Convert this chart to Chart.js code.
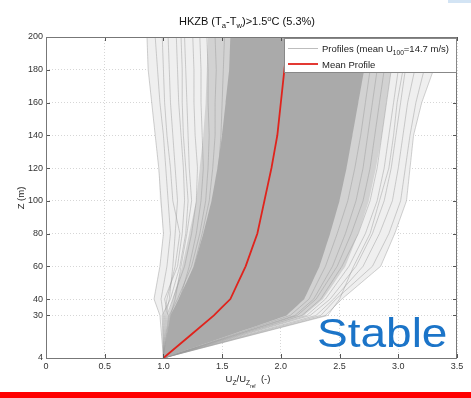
<!DOCTYPE html>
<html>
<head>
<meta charset="utf-8">
<script src="https://cdn.jsdelivr.net/npm/chart.js@4.4.1/dist/chart.umd.min.js"></script>
<style>
	html, body { margin: 0; padding: 0; background: #fff; }
	#wrap { width: 471px; height: 398px; }
</style>
</head>
<body>
<div id="wrap"><canvas id="profile_chart" width="471" height="398"></canvas></div>
<script>
// measurement heights of the mast (m)
const HEIGHTS = [4, 30, 40, 60, 80, 100, 120, 140, 160, 180, 200];
const Y_TICKS = [4, 30, 40, 60, 80, 100, 120, 140, 160, 180, 200];
const X_TICKS = [0, 0.5, 1, 1.5, 2, 2.5, 3, 3.5];

const MEAN_PROFILE = [1.0, 1.43, 1.57, 1.70, 1.80, 1.86, 1.92, 1.97, 2.00, 2.03, 2.06];

// envelopes of the gray cloud of single profiles
const OUTER_LEFT = [1.0, 0.97, 0.92, 0.97, 1.00, 0.97, 0.96, 0.93, 0.90, 0.87, 0.86];
const OUTER_RIGHT = [1.0, 2.38, 2.52, 2.85, 2.97, 3.07, 3.10, 3.13, 3.20, 3.30, 3.38];
const MID_LEFT = [1.0, 1.04, 1.08, 1.16, 1.22, 1.28, 1.31, 1.34, 1.36, 1.37, 1.38];
const MID_RIGHT = [1.0, 2.20, 2.36, 2.55, 2.66, 2.75, 2.81, 2.86, 2.90, 2.94, 2.97];
const CORE_LEFT = [1.0, 1.06, 1.13, 1.26, 1.34, 1.41, 1.46, 1.50, 1.53, 1.56, 1.57];
const CORE_RIGHT = [1.0, 2.05, 2.20, 2.33, 2.42, 2.50, 2.56, 2.61, 2.66, 2.71, 2.74];

// a few single profiles at the edges of the cloud
const FRINGE_PROFILES = [
	[1, 0.97, 0.92, 0.97, 1.00, 0.98, 0.96, 0.93, 0.90, 0.87, 0.86],
	[1, 1.00, 0.98, 1.03, 1.06, 1.04, 1.02, 1.00, 0.97, 0.95, 0.93],
	[1, 1.01, 1.03, 1.10, 1.14, 1.08, 1.06, 1.03, 1.01, 1.00, 0.99],
	[1, 1.02, 1.05, 1.08, 1.10, 1.12, 1.10, 1.08, 1.06, 1.05, 1.04],
	[1, 1.04, 1.01, 1.12, 1.16, 1.18, 1.17, 1.15, 1.13, 1.12, 1.11],
	[1, 1.06, 1.10, 1.15, 1.20, 1.24, 1.22, 1.21, 1.20, 1.19, 1.18],
	[1, 1.03, 1.08, 1.18, 1.24, 1.28, 1.29, 1.27, 1.26, 1.26, 1.25],
	[1, 1.08, 1.14, 1.22, 1.28, 1.32, 1.34, 1.33, 1.32, 1.32, 1.31],
	[1, 1.05, 1.12, 1.24, 1.31, 1.36, 1.38, 1.39, 1.38, 1.38, 1.37],
	[1, 1.09, 1.16, 1.26, 1.33, 1.39, 1.42, 1.44, 1.44, 1.45, 1.44],
	[1, 1.07, 1.15, 1.29, 1.37, 1.43, 1.47, 1.49, 1.50, 1.51, 1.52],
	[1, 0.99, 1.06, 1.14, 1.19, 1.21, 1.19, 1.17, 1.16, 1.16, 1.15],
	[1, 2.38, 2.52, 2.85, 2.97, 3.07, 3.10, 3.13, 3.20, 3.30, 3.38],
	[1, 2.34, 2.47, 2.78, 2.92, 3.02, 3.06, 3.10, 3.15, 3.22, 3.28],
	[1, 2.30, 2.45, 2.70, 2.84, 2.95, 3.00, 3.04, 3.08, 3.14, 3.18],
	[1, 2.25, 2.42, 2.64, 2.78, 2.88, 2.94, 2.98, 3.02, 3.06, 3.10],
	[1, 2.22, 2.38, 2.58, 2.72, 2.82, 2.88, 2.92, 2.96, 3.00, 3.03],
	[1, 2.18, 2.34, 2.52, 2.66, 2.76, 2.82, 2.86, 2.90, 2.94, 2.97],
	[1, 2.14, 2.30, 2.48, 2.60, 2.70, 2.76, 2.80, 2.84, 2.88, 2.91],
	[1, 2.12, 2.28, 2.44, 2.55, 2.64, 2.70, 2.74, 2.78, 2.82, 2.85],
	[1, 2.40, 2.50, 2.62, 2.76, 2.84, 2.92, 2.96, 2.99, 3.04, 3.08],
	[1, 2.08, 2.24, 2.38, 2.48, 2.57, 2.63, 2.68, 2.72, 2.76, 2.79]
];

const FONT = "'Liberation Sans', Arial, sans-serif";

function profilePoints(values) {
	return values.map((u, i) => ({ x: u, y: HEIGHTS[i] }));
}

// closed outline: up the left edge, down the right edge
function bandPoints(left, right) {
	const up = profilePoints(left);
	const down = profilePoints(right).reverse();
	return up.concat(down);
}

function bandDataset(left, right, color, order) {
	return {
		data: bandPoints(left, right),
		showLine: true,
		fill: "shape",
		backgroundColor: color,
		borderColor: color,
		borderWidth: 0,
		pointRadius: 0,
		tension: 0.0001,
		order: order
	};
}

// text with sub/superscripts: parts = [[text, mode]], mode "", "sub", "sup", "subsub"
function drawRich(ctx, parts, x, y, size, align, color) {
	const spec = {
		"": { s: 1, dy: 0 },
		"sub": { s: 0.7, dy: 0.3 },
		"sup": { s: 0.7, dy: -0.4 },
		"subsub": { s: 0.5, dy: 0.6 }
	};
	let total = 0;
	for (const [t, m] of parts) {
		ctx.font = `${size * spec[m].s}px ${FONT}`;
		total += ctx.measureText(t).width;
	}
	let cx = align === "center" ? x - total / 2 : x;
	ctx.fillStyle = color;
	ctx.textAlign = "left";
	ctx.textBaseline = "alphabetic";
	for (const [t, m] of parts) {
		ctx.font = `${size * spec[m].s}px ${FONT}`;
		ctx.fillText(t, cx, y + spec[m].dy * size);
		cx += ctx.measureText(t).width;
	}
}

const decorations = {
	id: "decorations",
	afterDatasetsDraw(chart) {
		const { ctx, chartArea: a, scales } = chart;
		ctx.save();
		// inward tick marks
		ctx.strokeStyle = "#555";
		ctx.lineWidth = 1;
		ctx.beginPath();
		for (const v of Y_TICKS) {
			const py = Math.round(scales.y.getPixelForValue(v)) + 0.5;
			ctx.moveTo(a.left, py); ctx.lineTo(a.left + 4, py);
			ctx.moveTo(a.right, py); ctx.lineTo(a.right - 4, py);
		}
		for (const v of X_TICKS) {
			const px = Math.round(scales.x.getPixelForValue(v)) + 0.5;
			ctx.moveTo(px, a.bottom); ctx.lineTo(px, a.bottom - 4);
			ctx.moveTo(px, a.top); ctx.lineTo(px, a.top + 4);
		}
		ctx.stroke();
		// axes box
		ctx.strokeStyle = "#777";
		ctx.strokeRect(a.left + 0.5, a.top + 0.5, a.right - a.left - 1, a.bottom - a.top);

		// legend
		const lx = 284, ly = a.top + 1, lw = a.right - 284, lh = 35;
		ctx.fillStyle = "#fff";
		ctx.fillRect(lx, ly, lw, lh);
		ctx.strokeStyle = "#888";
		ctx.strokeRect(lx + 0.5, ly + 0.5, lw - 1, lh - 1);
		ctx.lineWidth = 1;
		ctx.strokeStyle = "#bdbdbd";
		ctx.beginPath(); ctx.moveTo(288, ly + 10.5); ctx.lineTo(318, ly + 10.5); ctx.stroke();
		ctx.lineWidth = 1.8;
		ctx.strokeStyle = "#e0231c";
		ctx.beginPath(); ctx.moveTo(288, ly + 26); ctx.lineTo(318, ly + 26); ctx.stroke();
		drawRich(ctx, [["Profiles (mean U", ""], ["100", "sub"], ["=14.7 m/s)", ""]], 322, ly + 14, 9.5, "left", "#222");
		drawRich(ctx, [["Mean Profile", ""]], 322, ly + 29.5, 9.5, "left", "#222");
		ctx.restore();
	},
	afterDraw(chart) {
		const { ctx } = chart;
		ctx.save();
		// title
		drawRich(ctx, [["HKZB (T", ""], ["a", "sub"], ["-T", ""], ["w", "sub"], [")>1.5", ""], ["o", "sup"], ["C (5.3%)", ""]],
			247, 25, 11, "center", "#111");
		// axis titles
		drawRich(ctx, [["U", ""], ["Z", "sub"], ["/U", ""], ["Z", "sub"], ["ref", "subsub"], ["  (-)", ""]],
			248, 382, 9.5, "center", "#222");
		ctx.translate(24, 198);
		ctx.rotate(-Math.PI / 2);
		drawRich(ctx, [["Z (m)", ""]], 0, 0, 9.5, "center", "#222");
		ctx.restore();

		ctx.save();
		// "Stable" label
		ctx.fillStyle = "#1b74c8";
		ctx.font = `40px ${FONT}`;
		ctx.textBaseline = "alphabetic";
		ctx.translate(317, 347);
		ctx.scale(1.15, 1);
		ctx.fillText("Stable", 0, 0);
		ctx.restore();

		// red strip at the bottom of the slide
		ctx.fillStyle = "#ff0000";
		ctx.fillRect(0, 392, 471, 6);
		ctx.fillStyle = "#d3e4f4";
		ctx.fillRect(448, 0, 23, 3);
	}
};

const datasets = [
	bandDataset(OUTER_LEFT, OUTER_RIGHT, "#efefef", 10),
	bandDataset(MID_LEFT, MID_RIGHT, "#d2d2d2", 9)
];
for (const p of FRINGE_PROFILES) {
	datasets.push({
		data: profilePoints(p),
		showLine: true,
		fill: false,
		borderColor: "rgba(150,150,150,0.75)",
		borderWidth: 0.6,
		pointRadius: 0,
		tension: 0.0001,
		order: 5
	});
}
datasets.push(bandDataset(CORE_LEFT, CORE_RIGHT, "#aaaaaa", 3));
datasets.push({
	label: "Mean Profile",
	data: profilePoints(MEAN_PROFILE),
	showLine: true,
	fill: false,
	borderColor: "#e0231c",
	borderWidth: 1.8,
	pointRadius: 0,
	tension: 0.0001,
	order: 1
});

const ctx = document.getElementById("profile_chart");
new Chart(ctx, {
	type: "scatter",
	data: { datasets },
	options: {
		indexAxis: "y",
		responsive: false,
		animation: false,
		devicePixelRatio: 1,
		layout: { padding: { left: 0, top: 37, right: 14, bottom: 18 } },
		plugins: {
			legend: { display: false },
			tooltip: { enabled: false },
			title: { display: false }
		},
		scales: {
			x: {
				type: "linear",
				min: 0,
				max: 3.5,
				afterBuildTicks: (s) => { s.ticks = X_TICKS.map(v => ({ value: v })); },
				afterFit: (s) => { s.height = 22; },
				ticks: { font: { family: FONT, size: 9 }, color: "#333", padding: 3 },
				grid: { color: "#cccccc", lineWidth: 0.8, drawTicks: false },
				border: { display: false, dash: [1, 2] }
			},
			y: {
				type: "linear",
				min: 4,
				max: 200,
				afterBuildTicks: (s) => { s.ticks = Y_TICKS.map(v => ({ value: v })); },
				afterFit: (s) => { s.width = 46; },
				ticks: { font: { family: FONT, size: 9 }, color: "#333", padding: 3 },
				grid: { color: "#cccccc", lineWidth: 0.8, drawTicks: false },
				border: { display: false, dash: [1, 2] }
			}
		}
	},
	plugins: [decorations]
});
</script>
</body>
</html>
